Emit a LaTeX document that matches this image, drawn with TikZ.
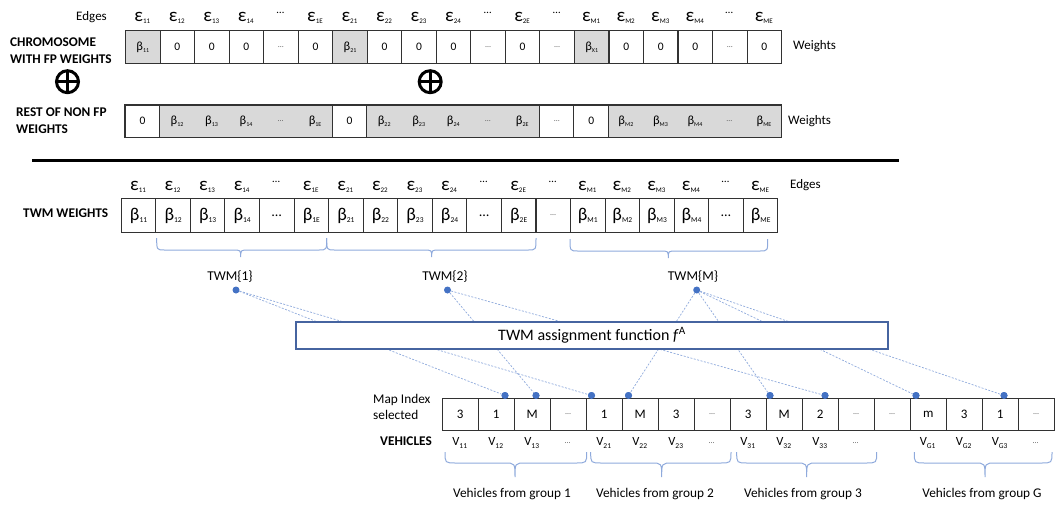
\documentclass[tikz,border=0pt]{standalone}
\usepackage{fontspec}
\setmainfont{Carlito}

\definecolor{cellgray}{RGB}{217,217,217}
\definecolor{gridline}{RGB}{50,50,50}
\definecolor{bracecol}{RGB}{143,170,220}
\definecolor{linkcol}{RGB}{143,170,220}
\definecolor{dotcol}{RGB}{68,114,196}
\definecolor{boxcol}{RGB}{70,100,160}
\definecolor{dotgray}{RGB}{89,89,89}

% font size helper and label pieces
\newcommand\fs[1]{\fontsize{#1}{#1}\selectfont}
\newcommand\idx[2]{\raisebox{-0.45ex}{\fs{#1}#2}}
\newcommand\eps[1]{{\fs{19}ε}\idx{7}{#1}}
\newcommand\bsm[1]{{\fs{12.5}β}\idx{6}{#1}}
\newcommand\bbig[1]{{\fs{18}β}\idx{7.5}{#1}}
\newcommand\vv[1]{V\idx{7.5}{#1}}
\newcommand\sdots{{\fs{8}\color{dotgray}…}}
\newcommand\edots{\raisebox{2.2ex}{\fs{11}…}}
\newcommand\mdots{{\fs{14}…}}

% curly brace opening downwards: x1, x2, tip x, top y, middle y, tip y, corner run
\newcommand\curlybrace[7]{%
  \draw[bracestyle] (#1,#4) .. controls (#1,#5) .. ({#1+#7},#5) -- ({#3-#7},#5)
    .. controls (#3,#5) .. (#3,#6) .. controls (#3,#5) .. ({#3+#7},#5)
    -- ({#2-#7},#5) .. controls (#2,#5) .. (#2,#4);}

\begin{document}
\begin{tikzpicture}[x=1pt,y=-1pt,
  cellA/.style={draw=gridline,line width=1.1pt,minimum width=34.53pt,minimum height=33pt,
                inner sep=0pt,anchor=north west,font=\fs{11.5}},
  cellB/.style={minimum width=34.53pt,minimum height=32pt,
                inner sep=0pt,anchor=north west,font=\fs{11.5}},
  cellC/.style={draw=gridline,line width=1.1pt,fill=white,minimum width=34.56pt,minimum height=34pt,
                inner sep=0pt,anchor=north west},
  cellD/.style={draw=gridline,line width=1.1pt,fill=white,minimum width=36pt,minimum height=32pt,
                inner sep=0pt,anchor=north west,font=\fs{13}},
  lbl/.style={inner sep=0pt},
  side/.style={inner sep=0pt,anchor=west,font=\fs{13}},
  head/.style={inner sep=0pt,anchor=west,align=left,font={\fontsize{13.3}{17}\selectfont\bfseries}},
  dot/.style={circle,fill=dotcol,inner sep=0pt,minimum size=7pt},
  link/.style={draw=linkcol,line width=0.7pt,dash pattern=on 2pt off 1.5pt},
  bracestyle/.style={draw=bracecol,line width=1pt},
  oplus/.style={circle,draw,line width=3pt,minimum size=22pt,inner sep=0pt}]
\useasboundingbox (0,0) rectangle (1055,504);

% ---------- chromosome with FP weights ----------
\node[side,anchor=east] (edgesA) at (107,17) {Edges};
\foreach \t [count=\i from 0] in {{\eps{11}},{\eps{12}},{\eps{13}},{\eps{14}},{\edots},{\eps{1E}},
    {\eps{21}},{\eps{22}},{\eps{23}},{\eps{24}},{\edots},{\eps{2E}},{\edots},
    {\eps{M1}},{\eps{M2}},{\eps{M3}},{\eps{M4}},{\edots},{\eps{ME}}}
  \node[lbl] (ea\i) at ({125+34.53*(\i+0.5)},18) {\t};

\foreach \t/\f [count=\i from 0] in {{\bsm{11}}/cellgray,0/white,0/white,0/white,{\sdots}/white,0/white,
    {\bsm{21}}/cellgray,0/white,0/white,0/white,{\sdots}/white,0/white,{\sdots}/white,
    {\bsm{X1}}/cellgray,0/white,0/white,0/white,{\sdots}/white,0/white}
  \node[cellA,fill=\f] (a\i) at ({125+34.53*\i},30) {\t};

\node[head] (chromo) at (10,50.5) {CHROMOSOME\\WITH FP WEIGHTS};
\node[side] (wA) at (793,46) {Weights};

% combination symbols
\node[oplus] (op1) at (67.5,81.7) {};
\draw[line width=3pt] (op1.center) ++(0,-11) -- ++(0,22) (op1.center) ++(-11,0) -- ++(22,0);
\node[oplus] (op2) at (430.2,81.7) {};
\draw[line width=3pt] (op2.center) ++(0,-11) -- ++(0,22) (op2.center) ++(-11,0) -- ++(22,0);

% ---------- rest of non FP weights ----------
\foreach \t/\f [count=\i from 0] in {0/white,{\bsm{12}}/cellgray,{\bsm{13}}/cellgray,{\bsm{14}}/cellgray,{\sdots}/cellgray,{\bsm{1E}}/cellgray,
    0/white,{\bsm{22}}/cellgray,{\bsm{23}}/cellgray,{\bsm{24}}/cellgray,{\sdots}/cellgray,{\bsm{2E}}/cellgray,{\sdots}/white,
    0/white,{\bsm{M2}}/cellgray,{\bsm{M3}}/cellgray,{\bsm{M4}}/cellgray,{\sdots}/cellgray,{\bsm{ME}}/cellgray}
  \node[cellB,fill=\f] (b\i) at ({125+34.53*\i},105) {\t};
\draw[gridline,line width=1.4pt] (b0.north west) rectangle (b18.south east);
\foreach \k in {1,6,7,12,13,14}
  \draw[gridline,line width=1.1pt] (b\k.north west) -- (b\k.south west);

\node[head] (rest) at (16,121) {REST OF NON FP\\WEIGHTS};
\node[side] (wB) at (788,121) {Weights};

% separator
\draw[line width=2.8pt] (32,160.5) -- (899,160.5);

% ---------- TWM weights ----------
\foreach \t [count=\i from 0] in {{\eps{11}},{\eps{12}},{\eps{13}},{\eps{14}},{\edots},{\eps{1E}},
    {\eps{21}},{\eps{22}},{\eps{23}},{\eps{24}},{\edots},{\eps{2E}},{\edots},
    {\eps{M1}},{\eps{M2}},{\eps{M3}},{\eps{M4}},{\edots},{\eps{ME}}}
  \node[lbl] (ec\i) at ({120.7+34.56*(\i+0.5)},187) {\t};
\node[side] (edgesC) at (790,185) {Edges};

\foreach \t [count=\i from 0] in {{\bbig{11}},{\bbig{12}},{\bbig{13}},{\bbig{14}},{\mdots},{\bbig{1E}},
    {\bbig{21}},{\bbig{22}},{\bbig{23}},{\bbig{24}},{\mdots},{\bbig{2E}},{\sdots},
    {\bbig{M1}},{\bbig{M2}},{\bbig{M3}},{\bbig{M4}},{\mdots},{\bbig{ME}}}
  \node[cellC] (c\i) at ({120.7+34.56*\i},198) {\t};
\node[head] (twmw) at (23,213) {TWM WEIGHTS};

\curlybrace{156.7}{326.7}{240.7}{238}{250}{257}{8}
\curlybrace{326.7}{536}{431.7}{238}{250}{257}{8}
\curlybrace{570}{767.7}{668.3}{239}{251}{258}{8}

\node[lbl,font=\fs{13.5}] (tl1) at (230,277) {TWM\{1\}};
\node[lbl,font=\fs{13.5}] (tl2) at (445,277) {TWM\{2\}};
\node[lbl,font=\fs{13.5}] (tlM) at (693,277) {TWM\{M\}};

% ---------- assignment ----------
\node[dot] (t1) at (236,290) {};
\node[dot] (t2) at (447.5,290) {};
\node[dot] (tM) at (696.7,290) {};

\node[dot] (p1) at (505,395.5) {};
\node[dot] (p2) at (536,395.5) {};
\node[dot] (p3) at (591.5,395.5) {};
\node[dot] (p4) at (628.5,395.5) {};
\node[dot] (p5) at (770,395.5) {};
\node[dot] (p6) at (825,395.5) {};
\node[dot] (p7) at (916,395.5) {};
\node[dot] (p8) at (1004,395.5) {};

\draw[link] (t1) -- (p1);
\draw[link] (t1) -- (p3);
\draw[link] (t2) -- (p2);
\draw[link] (t2) -- (p6);
\draw[link] (tM) -- (p4);
\draw[link] (tM) -- (p5);
\draw[link] (tM) -- (p7);
\draw[link] (tM) -- (p8);

\node[draw=boxcol,line width=1.2pt,fill=white,minimum width=592pt,minimum height=27pt,
      inner sep=0pt,font=\fs{16}] (assign) at (592,335.5)
  {TWM assignment function \textit{f}\textsuperscript{A}};

% ---------- vehicles ----------
\foreach \t [count=\i from 0] in {3,1,M,{\sdots},1,M,3,{\sdots},3,M,2,{\sdots},{\sdots},m,3,1,{\sdots}}
  \node[cellD] (d\i) at ({441.7+36*\i},398) {\t};
\foreach \p in {1,...,8} \node[dot] at (p\p) {};

\node[inner sep=0pt,anchor=west,align=left,font={\fontsize{13.3}{15.7}\selectfont}] (mapidx) at (373,407) {Map Index\\selected};
\node[head] (veh) at (380,441) {VEHICLES};

\foreach \t [count=\i from 0] in {{\vv{11}},{\vv{12}},{\vv{13}},{\sdots},{\vv{21}},{\vv{22}},{\vv{23}},{\sdots},
    {\vv{31}},{\vv{32}},{\vv{33}},{\sdots},{},{\vv{G1}},{\vv{G2}},{\vv{G3}},{\sdots}}
  \node[lbl,font=\fs{12.5}] (v\i) at ({441.7+36*(\i+0.5)},443) {\t};

\curlybrace{445}{586.7}{515}{452}{463}{477}{11}
\curlybrace{590.7}{731}{661.7}{452}{463}{477}{11}
\curlybrace{736.7}{876.7}{806.7}{452}{463}{477}{11}
\curlybrace{914.3}{1052}{985}{452}{463}{477}{11}

\node[lbl,font=\fs{13.3}] (g1) at (512,494) {Vehicles from group 1};
\node[lbl,font=\fs{13.3}] (g2) at (655,494) {Vehicles from group 2};
\node[lbl,font=\fs{13.3}] (g3) at (803,494) {Vehicles from group 3};
\node[lbl,font=\fs{13.3}] (gG) at (982,494) {Vehicles from group G};
\end{tikzpicture}
\end{document}
